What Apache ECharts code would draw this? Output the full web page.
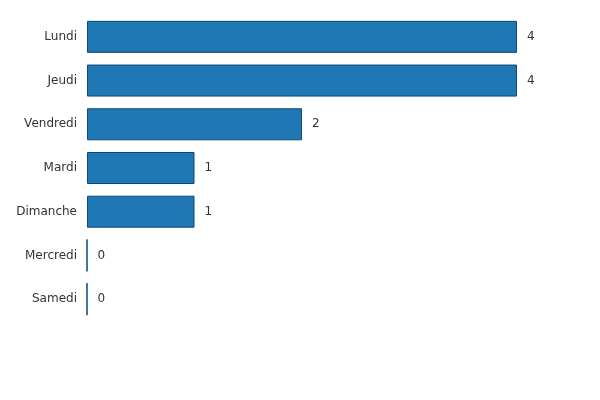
<!DOCTYPE html>
<html><head><meta charset="utf-8">
<script src="https://cdn.jsdelivr.net/npm/echarts@6/dist/echarts.min.js"></script>
<style>html,body{margin:0;padding:0;background:#fff}#c{width:600px;height:400px}</style>
</head><body><div id="c"></div>
<script>
const categories = ["Lundi","Jeudi","Vendredi","Mardi","Dimanche","Mercredi","Samedi"];
const values = [4,4,2,1,1,0,0];
const chart = echarts.init(document.getElementById('c'));
chart.setOption({
  animation:false,
  grid:{left:87,top:15,width:430,height:306},
  xAxis:{type:'value',min:0,max:4,show:false},
  yAxis:{type:'category',data:categories,inverse:true,
    axisLine:{show:false},axisTick:{show:false},
    axisLabel:{fontFamily:'DejaVu Sans',fontSize:12,color:'#333',margin:10}},
  series:[{type:'bar',data:values,barWidth:32,
    itemStyle:{color:'#1f77b4',borderColor:'#0b4777',borderWidth:1},
    label:{show:true,position:'right',distance:10,fontFamily:'DejaVu Sans',fontSize:12,color:'#333'}}]
});
</script></body></html>
